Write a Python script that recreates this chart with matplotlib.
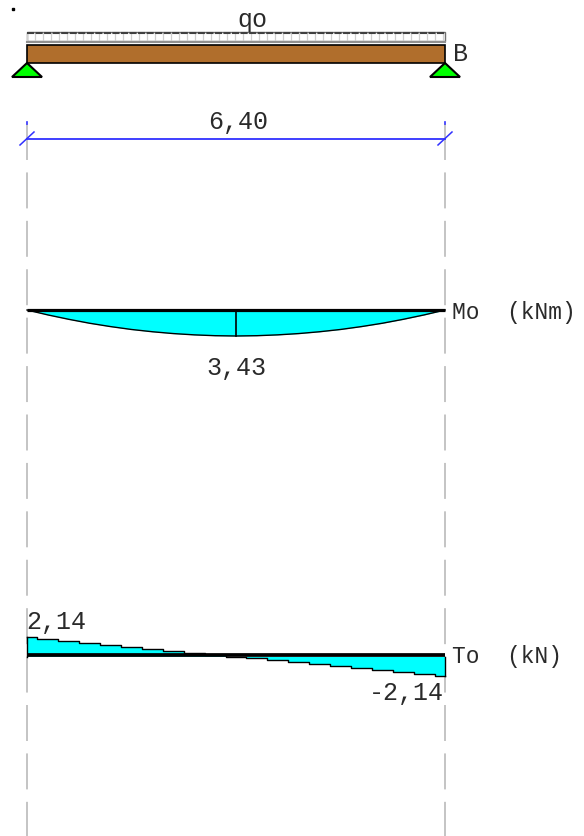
import numpy as np
import matplotlib
matplotlib.use("Agg")
import matplotlib.pyplot as plt
from matplotlib.patches import Rectangle, Polygon

plt.rcParams['font.family'] = ['Liberation Mono', 'DejaVu Sans Mono']

span = 6.40
stations = [0.00, 0.32, 0.64, 0.96, 1.28, 1.60, 1.92, 2.24, 2.56, 2.88, 3.20,
            3.52, 3.84, 4.16, 4.48, 4.80, 5.12, 5.44, 5.76, 6.08, 6.40]
moment = [0.00, 0.65, 1.23, 1.75, 2.19, 2.57, 2.87, 3.11, 3.28, 3.39, 3.43,
          3.39, 3.28, 3.11, 2.87, 2.57, 2.19, 1.75, 1.23, 0.65, 0.00]
shear = [2.14, 1.93, 1.71, 1.50, 1.28, 1.07, 0.86, 0.64, 0.43, 0.21, 0.00,
         -0.21, -0.43, -0.64, -0.86, -1.07, -1.28, -1.50, -1.71, -1.93, -2.14]

W, H = 584, 837
x0, x1 = 27, 445
px_per_m = (x1 - x0) / span
m_scale = 26 / 3.43   # px per kNm
t_scale = 19.5 / 2.14   # px per kN
y_mom = 311
y_she = 657.5

fig = plt.figure(figsize=(W / 100, H / 100), dpi=100)
ax = fig.add_axes([0, 0, 1, 1])
ax.set_xlim(-x0 / px_per_m, (W - x0) / px_per_m)
ax.set_ylim(H, 0)
ax.axis('off')

def dx(px):
    return px / px_per_m

# grey dashed verticals
for xv in [0, span]:
    ax.plot([xv, xv], [124.5, 837], color='#c4c4c4', lw=1.4, dashes=(18.5, 6.4),
            dash_capstyle='butt', zorder=1)

# distributed load
ax.add_patch(Rectangle((0, 33), span, 9, fc='white', ec='#707070', lw=1.0, zorder=2))
for xv in np.arange(0, span, dx(8)):
    ax.plot([xv, xv], [34, 41], color='#d0d0d0', lw=0.9, zorder=2)
ax.plot([0, span], [33.5, 33.5], color='#404040', lw=1.5, dashes=(3.4, 0.7), zorder=3)
ax.plot([0, span], [42.5, 42.5], color='#909090', lw=1.5, zorder=3)

# beam
ax.add_patch(Rectangle((0, 46), span, 17.5, fc='#b06e2c', ec='black', lw=1.2, zorder=4))

# supports
for xv in [0, span]:
    ax.add_patch(Polygon([(xv, 64), (xv - dx(15), 78), (xv + dx(15), 78)], closed=True,
                         fc='#00ff00', ec='black', lw=1.5, zorder=5))

# dimension line
ax.plot([0, span], [140, 140], color='#3030ff', lw=1.3, zorder=3)
for xv in [0, span]:
    ax.plot([xv - dx(7), xv + dx(7)], [146, 133], color='#3030ff', lw=1.1, zorder=3)
    ax.plot([xv, xv], [123, 125], color='#3030ff', lw=1.2, zorder=3)

# moment diagram
my = [y_mom + v * m_scale for v in moment]
ax.fill_between(stations, y_mom, my, color='#00ffff', lw=0, zorder=2)
ax.plot(stations, my, color='black', lw=1.0, zorder=3)
ax.plot([0, span], [y_mom, y_mom], color='black', lw=2.3, solid_capstyle='butt', zorder=4)
ax.plot([span / 2, span / 2], [y_mom, y_mom + 3.43 * m_scale], color='black', lw=1.2, zorder=4)

# shear diagram
ty = [y_she - v * t_scale for v in shear]
ax.fill_between(stations, y_she, ty, step='mid', color='#00ffff', lw=0, zorder=2)
ax.step(stations, ty, where='mid', color='black', lw=1.0, zorder=3)
ax.plot([0, span], [655.5, 655.5], color='black', lw=2.7, solid_capstyle='butt', zorder=4)
ax.plot([0, 0], [ty[0], y_she], color='black', lw=1.0, zorder=3)
ax.plot([span, span], [ty[-1], y_she], color='black', lw=1.0, zorder=3)

# labels
txt = dict(fontsize=18, color='#2a2a2a', zorder=6)
lab = dict(fontsize=16.5, color='#2a2a2a', zorder=6)
ax.text(dx(225), 20, 'qo', ha='center', va='center', **txt)
ax.text(span + dx(8), 54, 'B', ha='left', va='center', **txt)
ax.text(dx(211), 122, '6,40', ha='center', va='center', **txt)
ax.text(dx(209), 368, '3,43', ha='center', va='center', **txt)
ax.text(span + dx(6.5), 312, 'Mo  (kNm)', ha='left', va='center', **lab)
ax.text(dx(-1), 622, '2,14', ha='left', va='center', **txt)
ax.text(span + dx(6.5), 656, 'To  (kN)', ha='left', va='center', **lab)
ax.text(span + dx(-1), 693, '-2,14', ha='right', va='center', **txt)
ax.plot([dx(-14)], [10], marker='s', ms=1.5, color='black', zorder=6)

fig.savefig('out.png', dpi=100)
